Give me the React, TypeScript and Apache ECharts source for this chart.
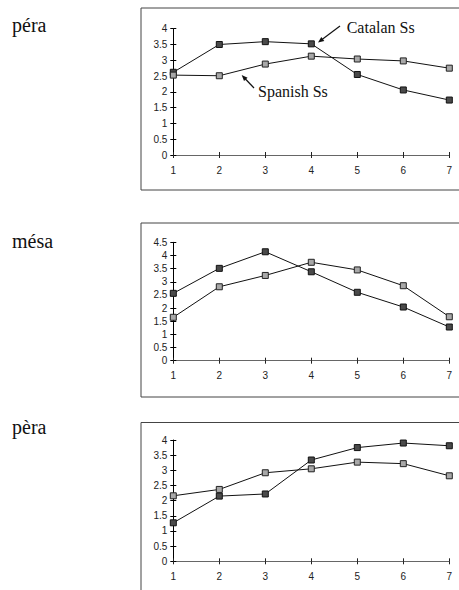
import React, { useEffect, useRef } from "react";
import * as echarts from "echarts";

const categories = ["1", "2", "3", "4", "5", "6", "7"];
const titles = ["péra", "mésa", "pèra"];
const yMaxes = [4, 4.5, 4];

const peraCatalan = [2.62, 3.5, 3.59, 3.52, 2.55, 2.06, 1.74];
const peraSpanish = [2.53, 2.51, 2.88, 3.13, 3.04, 2.98, 2.75];
const mesaCatalan = [2.56, 3.51, 4.14, 3.38, 2.6, 2.04, 1.28];
const mesaSpanish = [1.65, 2.81, 3.24, 3.74, 3.45, 2.85, 1.67];
const peraGraveCatalan = [1.27, 2.15, 2.22, 3.34, 3.75, 3.9, 3.81];
const peraGraveSpanish = [2.16, 2.37, 2.92, 3.05, 3.27, 3.22, 2.82];

const catalanSets = [peraCatalan, mesaCatalan, peraGraveCatalan];
const spanishSets = [peraSpanish, mesaSpanish, peraGraveSpanish];

const gridTops = [28.7, 242.3, 440];
const gridHeights = [126.3, 118.4, 121.3];
const boxTops = [8, 223, 422.5];
const boxHeights = [182, 174, 200];
const titleYs = [25, 241, 427];

export default function App() {
  const ref = useRef<HTMLDivElement>(null);
  useEffect(() => {
    if (!ref.current) return;
    const chart = echarts.init(ref.current, null, { renderer: "svg" });
    const grids: any[] = [];
    const xAxes: any[] = [];
    const yAxes: any[] = [];
    const series: any[] = [];
    const graphics: any[] = [];
    const labelFont = { fontFamily: "Liberation Sans, Arial, sans-serif", fontSize: 10, color: "#222" };

    for (let i = 0; i < 3; i++) {
      grids.push({ left: 173.3, right: 9.7, top: gridTops[i], height: gridHeights[i] });
      xAxes.push({
        type: "category",
        gridIndex: i,
        position: "bottom",
        data: categories,
        boundaryGap: false,
        axisLine: { onZero: false, lineStyle: { color: "#666", width: 1.2 } },
        axisTick: { show: true, length: 3, lineStyle: { color: "#222" } },
        axisLabel: { ...labelFont, margin: 10 },
        splitLine: { show: false },
      });
      xAxes.push({
        type: "category",
        gridIndex: i,
        position: "bottom",
        data: categories,
        boundaryGap: false,
        axisLine: { show: false, onZero: false },
        axisTick: { show: true, inside: true, length: 3, lineStyle: { color: "#222" } },
        axisLabel: { show: false },
        splitLine: { show: false },
      });
      yAxes.push({
        type: "value",
        gridIndex: i,
        position: "left",
        min: 0,
        max: yMaxes[i],
        interval: 0.5,
        axisLine: { show: true, lineStyle: { color: "#000", width: 1 } },
        axisTick: { show: true, length: 3, lineStyle: { color: "#000" } },
        axisLabel: { ...labelFont, margin: 6 },
        splitLine: { show: false },
      });
      yAxes.push({
        type: "value",
        gridIndex: i,
        position: "left",
        min: 0,
        max: yMaxes[i],
        interval: 0.5,
        axisLine: { show: false },
        axisTick: { show: true, inside: true, length: 3, lineStyle: { color: "#000" } },
        axisLabel: { show: false },
        splitLine: { show: false },
      });
      series.push({
        type: "line",
        name: "Catalan Ss",
        xAxisIndex: i * 2,
        yAxisIndex: i * 2,
        data: catalanSets[i],
        symbol: "rect",
        symbolSize: 6,
        lineStyle: { color: "#111", width: 1 },
        itemStyle: { color: "#4a4a4a", borderColor: "#111", borderWidth: 1 },
        z: 2,
      });
      series.push({
        type: "line",
        name: "Spanish Ss",
        xAxisIndex: i * 2,
        yAxisIndex: i * 2,
        data: spanishSets[i],
        symbol: "rect",
        symbolSize: 6,
        lineStyle: { color: "#111", width: 1 },
        itemStyle: { color: "#a8a8a8", borderColor: "#222", borderWidth: 1 },
        z: 3,
      });
      graphics.push({
        type: "rect",
        shape: { x: 141, y: boxTops[i], width: 330, height: boxHeights[i] },
        style: { fill: "none", stroke: "#444", lineWidth: 1 },
        silent: true,
      });
      graphics.push({
        type: "text",
        x: 12,
        y: titleYs[i],
        style: {
          text: titles[i],
          font: "20px 'Liberation Serif', 'Times New Roman', serif",
          fill: "#111",
          verticalAlign: "middle",
          align: "left",
        },
      });
    }

    graphics.push({
      type: "text",
      x: 346.7,
      y: 27,
      style: { text: "Catalan Ss", font: "16px 'Liberation Serif', serif", fill: "#111", verticalAlign: "middle" },
    });
    graphics.push({
      type: "line",
      shape: { x1: 340, y1: 26, x2: 321, y2: 40.3 },
      style: { stroke: "#111", lineWidth: 1.2 },
    });
    graphics.push({
      type: "polygon",
      shape: { points: [[318, 42.5], [324.3, 40.9], [321.3, 36.9]] },
      style: { fill: "#111" },
    });
    graphics.push({
      type: "text",
      x: 258,
      y: 91.7,
      style: { text: "Spanish Ss", font: "16px 'Liberation Serif', serif", fill: "#111", verticalAlign: "middle" },
    });
    graphics.push({
      type: "line",
      shape: { x1: 254, y1: 88, x2: 244, y2: 77.5 },
      style: { stroke: "#111", lineWidth: 1.2 },
    });
    graphics.push({
      type: "polygon",
      shape: { points: [[241.7, 75], [247.6, 77.7], [244, 81.1]] },
      style: { fill: "#111" },
    });

    chart.setOption({
      animation: false,
      backgroundColor: "#fff",
      grid: grids,
      xAxis: xAxes,
      yAxis: yAxes,
      series,
      graphic: graphics,
    });
    return () => chart.dispose();
  }, []);
  return (
    <div
      ref={ref}
      style={{ position: "absolute", left: 0, top: 0, width: 459, height: 590 }}
    />
  );
}
